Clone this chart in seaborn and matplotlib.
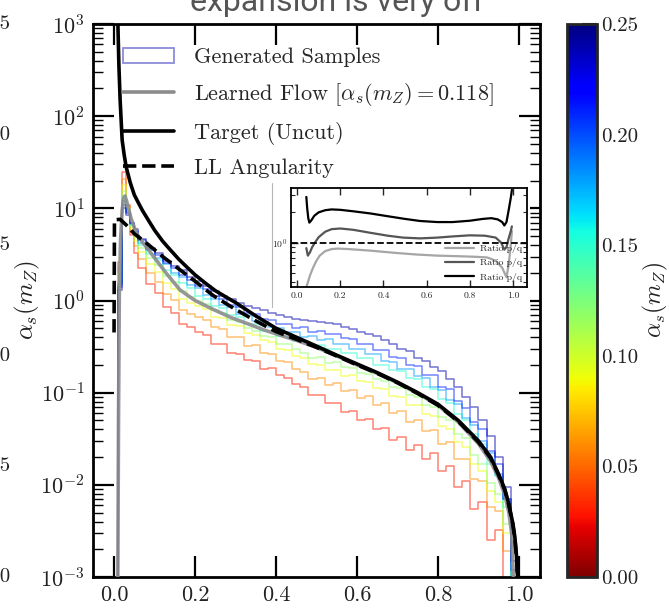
import numpy as np
import matplotlib
matplotlib.use("Agg")
import matplotlib.pyplot as plt
import seaborn as sns
from matplotlib.patches import Patch, Rectangle
from matplotlib.lines import Line2D
from matplotlib import ticker
from matplotlib.colors import Normalize
from matplotlib.cm import ScalarMappable

# ---------------- data ----------------
# histogram bins: 0.01 wide around the peak, 0.02 wide elsewhere
bin_edges = [0.00, 0.01, 0.02, 0.03, 0.04, 0.05] + [round(0.06 + 0.02 * i, 2) for i in range(48)]

alpha_s_values = [0.03, 0.06, 0.09, 0.12, 0.15, 0.18, 0.21, 0.24]

hist_003 = [0, 2.6, 25, 11, 5.2, 3.3,
            2.25, 1.5, 1.2, 0.85, 0.73, 0.56, 0.51, 0.45, 0.42, 0.34, 0.335, 0.27, 0.265, 0.225, 0.22,
            0.18, 0.185, 0.155, 0.145, 0.125, 0.114, 0.094, 0.095, 0.078, 0.078, 0.062, 0.064, 0.05,
            0.052, 0.04, 0.041, 0.031, 0.033, 0.024, 0.027, 0.019, 0.022, 0.014, 0.016, 0.0095, 0.011,
            0.0055, 0.0065, 0.0025, 0.0032, 0, 0]
hist_006 = [0, 2.3, 21, 10.5, 5.6, 3.9,
            2.85, 2.0, 1.6, 1.18, 1.01, 0.79, 0.72, 0.66, 0.62, 0.51, 0.49, 0.4, 0.4, 0.32, 0.33,
            0.27, 0.26, 0.22, 0.215, 0.18, 0.166, 0.14, 0.145, 0.12, 0.127, 0.104, 0.108, 0.088,
            0.092, 0.074, 0.077, 0.06, 0.063, 0.048, 0.05, 0.038, 0.039, 0.028, 0.029, 0.019, 0.019,
            0.0115, 0.011, 0.0058, 0.0052, 0.0019, 0.0004]
hist_009 = [0, 2.0, 18, 10, 6.0, 4.4,
            3.35, 2.5, 2.05, 1.56, 1.33, 1.05, 0.93, 0.87, 0.8, 0.67, 0.64, 0.54, 0.53, 0.44, 0.42,
            0.37, 0.355, 0.3, 0.29, 0.25, 0.235, 0.205, 0.2, 0.175, 0.178, 0.152, 0.156, 0.133,
            0.132, 0.112, 0.11, 0.092, 0.09, 0.074, 0.073, 0.058, 0.056, 0.043, 0.04, 0.029, 0.026,
            0.017, 0.014, 0.0085, 0.0065, 0.003, 0.0006]
hist_012 = [0, 1.8, 15.5, 9.8, 6.3, 4.8,
            3.75, 2.9, 2.4, 1.86, 1.58, 1.27, 1.1, 1.0, 0.92, 0.78, 0.74, 0.62, 0.58, 0.5, 0.47,
            0.41, 0.4, 0.34, 0.34, 0.3, 0.27, 0.24, 0.245, 0.21, 0.215, 0.19, 0.185, 0.165,
            0.16, 0.14, 0.135, 0.115, 0.112, 0.094, 0.09, 0.074, 0.07, 0.055, 0.05, 0.036, 0.032,
            0.021, 0.017, 0.0105, 0.008, 0.0038, 0.0007]
hist_015 = [0, 1.6, 13.5, 9.5, 6.6, 5.2,
            4.05, 3.2, 2.75, 2.15, 1.9, 1.55, 1.36, 1.13, 1.04, 0.87, 0.82, 0.7, 0.66, 0.56, 0.55,
            0.47, 0.46, 0.41, 0.4, 0.36, 0.36, 0.32, 0.33, 0.3, 0.3, 0.27, 0.27, 0.235,
            0.24, 0.2, 0.2, 0.175, 0.17, 0.145, 0.14, 0.115, 0.11, 0.086, 0.078, 0.059, 0.05,
            0.036, 0.028, 0.017, 0.0125, 0.0058, 0.0009]
hist_018 = [0, 1.5, 12, 9.2, 6.8, 5.5,
            4.2, 3.55, 2.9, 2.5, 2.0, 1.82, 1.47, 1.35, 1.14, 1.05, 0.9, 0.84, 0.72, 0.69, 0.6,
            0.58, 0.52, 0.5, 0.45, 0.45, 0.4, 0.41, 0.37, 0.38, 0.34, 0.34, 0.3, 0.3,
            0.26, 0.265, 0.22, 0.215, 0.18, 0.18, 0.15, 0.145, 0.115, 0.108, 0.083, 0.075, 0.053,
            0.045, 0.03, 0.022, 0.013, 0.007, 0.001]
hist_021 = [0, 1.4, 11, 8.8, 6.9, 5.7,
            4.5, 3.6, 3.15, 2.55, 2.25, 1.9, 1.68, 1.45, 1.32, 1.13, 1.04, 0.9, 0.86, 0.74, 0.71,
            0.63, 0.62, 0.55, 0.56, 0.5, 0.51, 0.46, 0.47, 0.43, 0.43, 0.39, 0.38, 0.34,
            0.34, 0.29, 0.29, 0.245, 0.24, 0.2, 0.195, 0.155, 0.155, 0.115, 0.11, 0.082, 0.068,
            0.048, 0.04, 0.023, 0.017, 0.007, 0.0012]
hist_024 = [0, 1.3, 10, 8.5, 7.0, 5.9,
            4.7, 3.75, 3.3, 2.7, 2.38, 2.12, 1.78, 1.63, 1.44, 1.26, 1.13, 1.05, 0.95, 0.88, 0.83,
            0.78, 0.74, 0.7, 0.66, 0.63, 0.62, 0.6, 0.58, 0.57, 0.55, 0.52, 0.49, 0.46,
            0.43, 0.41, 0.37, 0.34, 0.3, 0.28, 0.24, 0.22, 0.19, 0.17, 0.14, 0.115, 0.09,
            0.07, 0.05, 0.034, 0.02, 0.0095, 0.0015]

hist_heights = [hist_003, hist_006, hist_009, hist_012, hist_015, hist_018, hist_021, hist_024]

# learned flow at alpha_s = 0.118
flow_x = [0.009, 0.011, 0.013, 0.016, 0.02, 0.024, 0.027, 0.031, 0.036, 0.042, 0.05, 0.06, 0.07,
          0.08, 0.1, 0.13, 0.163, 0.2, 0.245, 0.29, 0.33, 0.37, 0.41, 0.45, 0.5, 0.55, 0.6, 0.65,
          0.7, 0.75, 0.8, 0.85, 0.9, 0.93, 0.95, 0.965, 0.975, 0.982, 0.987]
flow_y = [0.0005, 0.05, 1.2, 4.5, 9.5, 13, 13.6, 12, 9.8, 7.8, 6.2, 5.0, 4.3,
          3.8, 2.9, 1.95, 1.3, 1.0, 0.8, 0.65, 0.56, 0.48, 0.42, 0.37, 0.31, 0.25, 0.2, 0.162,
          0.128, 0.098, 0.073, 0.048, 0.028, 0.018, 0.0118, 0.0078, 0.005, 0.003, 0.0008]

# target distribution (uncut)
target_x = [0.008, 0.01, 0.012, 0.015, 0.017, 0.02, 0.025, 0.03, 0.04, 0.05, 0.06, 0.07, 0.085,
            0.1, 0.12, 0.14, 0.16, 0.18, 0.2, 0.225, 0.25, 0.275, 0.3, 0.35, 0.4, 0.45, 0.5, 0.55,
            0.6, 0.65, 0.7, 0.75, 0.8, 0.85, 0.9, 0.93, 0.95, 0.965, 0.975, 0.985, 0.99, 0.995, 0.999]
target_y = [2000, 800, 350, 150, 100, 55, 38, 28, 19, 14, 11.5, 9.5, 7.4,
            5.8, 4.4, 3.5, 2.8, 2.3, 1.9, 1.55, 1.28, 1.1, 0.95, 0.68, 0.5, 0.4, 0.32, 0.255,
            0.205, 0.165, 0.13, 0.1, 0.075, 0.05, 0.03, 0.02, 0.013, 0.009, 0.0062, 0.0038, 0.0027,
            0.0015, 0.0005]

# leading-log angularity
ll_x = [0.0, 0.001, 0.015, 0.03, 0.05, 0.08, 0.12, 0.16, 0.2, 0.245, 0.3, 0.35, 0.4, 0.45, 0.5,
        0.55, 0.6, 0.65, 0.7, 0.75, 0.8, 0.85, 0.9, 0.93, 0.95, 0.965, 0.975, 0.985, 0.99, 0.995,
        0.999]
ll_y = [0.45, 7.5, 7.6, 6.6, 5.3, 4.2, 3.0, 2.2, 1.62, 1.13, 0.8, 0.6, 0.46, 0.38, 0.31,
        0.25, 0.2, 0.162, 0.128, 0.098, 0.073, 0.049, 0.029, 0.0195, 0.0127, 0.0088, 0.006, 0.0037,
        0.0026, 0.0014, 0.0004]

# ratio panel curves
ratio_light_x = [0.043, 0.05, 0.06, 0.074, 0.09, 0.105, 0.13, 0.16, 0.19, 0.24, 0.34, 0.45, 0.55,
                 0.65, 0.75, 0.83, 0.88, 0.92, 0.95, 0.97, 0.98, 0.99, 0.995]
ratio_light_y = [0.36, 0.4, 0.47, 0.56, 0.66, 0.74, 0.82, 0.86, 0.87, 0.86, 0.83, 0.79, 0.76,
                 0.74, 0.73, 0.72, 0.71, 0.66, 0.56, 0.45, 0.6, 0.95, 1.3]
ratio_mid_x = [0.043, 0.05, 0.06, 0.07, 0.083, 0.1, 0.13, 0.16, 0.2, 0.26, 0.34, 0.42, 0.49, 0.57,
               0.65, 0.72, 0.8, 0.87, 0.92, 0.945, 0.96, 0.97, 0.98, 0.99, 0.995]
ratio_mid_y = [0.88, 0.74, 0.8, 0.9, 1.0, 1.13, 1.28, 1.36, 1.38, 1.34, 1.25, 1.17, 1.12, 1.1,
               1.12, 1.15, 1.18, 1.17, 1.12, 1.0, 0.85, 0.9, 1.1, 1.3, 1.45]
ratio_dark_x = [0.043, 0.047, 0.052, 0.057, 0.065, 0.08, 0.1, 0.13, 0.16, 0.2, 0.26, 0.34, 0.42,
                0.5, 0.57, 0.65, 0.72, 0.8, 0.86, 0.9, 0.93, 0.95, 0.96, 0.97, 0.98, 0.99, 0.995]
ratio_dark_y = [2.85, 2.2, 1.75, 1.58, 1.65, 1.85, 2.0, 2.1, 2.14, 2.12, 2.05, 1.95, 1.83,
                1.72, 1.64, 1.6, 1.6, 1.65, 1.72, 1.75, 1.7, 1.6, 1.48, 1.6, 2.1, 2.8, 3.35]

cbar_ticks = [0.00, 0.05, 0.10, 0.15, 0.20, 0.25]

# ---------------- style ----------------
sns.set_theme(style="ticks")
plt.rcParams.update({
    "font.family": ["cmr10"],
    "mathtext.fontset": "cm",
    "axes.formatter.use_mathtext": True,
    "axes.unicode_minus": False,
})

W, H = 669, 611
fig = plt.figure(figsize=(W / 100, H / 100), dpi=100)
ax = fig.add_axes([93 / W, 34 / H, 447 / W, 553 / H])
cax = fig.add_axes([567 / W, 34 / H, 30 / W, 553 / H])
ax.set_yscale("log")

norm = Normalize(0.0, 0.25)
cmap = plt.get_cmap("jet_r")

centers = [0.5 * (a + b) for a, b in zip(bin_edges[:-1], bin_edges[1:])]
for a_s, heights in zip(alpha_s_values, hist_heights):
    sns.histplot(x=centers, weights=heights, bins=bin_edges, element="step", fill=False,
                 color=cmap(norm(a_s)), alpha=0.55, linewidth=1.1, ax=ax, zorder=2)

sns.lineplot(x=flow_x, y=flow_y, ax=ax, color="#8c8c8c", linewidth=2.6, alpha=0.9,
             estimator=None, sort=False, zorder=3)
sns.lineplot(x=target_x, y=target_y, ax=ax, color="black", linewidth=2.6,
             estimator=None, sort=False, zorder=4)
sns.lineplot(x=ll_x, y=ll_y, ax=ax, color="black", linewidth=2.6, linestyle="--",
             estimator=None, sort=False, zorder=4)

ax.set_xlim(-0.052, 1.052)
ax.set_ylim(1e-3, 1e3)
ax.set_xlabel("")
ax.set_ylabel("")
ax.set_xticks([0.0, 0.2, 0.4, 0.6, 0.8, 1.0])
ax.xaxis.set_major_formatter(ticker.FormatStrFormatter("%.1f"))
ax.xaxis.set_minor_locator(ticker.NullLocator())
ax.yaxis.set_major_locator(ticker.LogLocator(base=10, numticks=20))
ax.yaxis.set_minor_locator(ticker.LogLocator(base=10, subs=np.arange(2, 10), numticks=20))
ax.yaxis.set_minor_formatter(ticker.NullFormatter())
ax.tick_params(which="major", direction="in", length=15, width=1.6, top=True, right=True,
               labelsize=16, pad=6, color="black", labelcolor="#222222")
ax.tick_params(which="minor", direction="in", length=7, width=1.0, top=True, right=True,
               color="black")
for s in ax.spines.values():
    s.set_linewidth(2.0)
    s.set_color("black")

navy = cmap(norm(alpha_s_values[-1]))
handles = [
    Patch(facecolor="none", edgecolor=(navy[0], navy[1], navy[2], 0.45), linewidth=1.3),
    Line2D([], [], color="#8c8c8c", linewidth=2.6),
    Line2D([], [], color="black", linewidth=2.6),
    Line2D([], [], color="black", linewidth=2.6, linestyle="--"),
]
labels = ["Generated Samples", r"Learned Flow $[\alpha_s(m_Z) = 0.118]$",
          "Target (Uncut)", "LL Angularity"]
ax.legend(handles, labels, loc="upper left", bbox_to_anchor=(0.067, 0.957), frameon=False,
          fontsize=16, handlelength=2.3, handletextpad=0.9, labelspacing=0.62,
          borderpad=0, borderaxespad=0)

# white panel behind the ratio inset
ax.add_patch(Rectangle((272 / W, 1 - 307 / H), (530 - 272) / W, (307 - 183) / H,
                       transform=fig.transFigure, facecolor="white", edgecolor="none",
                       zorder=4.5, clip_on=False))
ax.add_line(Line2D([272 / W, 272 / W], [1 - 307 / H, 1 - 183 / H], transform=fig.transFigure,
                   color="#b5b5b5", linewidth=0.8, zorder=4.6, clip_on=False))

# ratio inset
axi = fig.add_axes([291 / W, 1 - 287 / H, 236 / W, 99 / H])
axi.set_yscale("log")
sns.lineplot(x=ratio_light_x, y=ratio_light_y, ax=axi, color="#a6a6a6", linewidth=1.6,
             estimator=None, sort=False, label="Ratio p/q")
sns.lineplot(x=ratio_mid_x, y=ratio_mid_y, ax=axi, color="#555555", linewidth=1.6,
             estimator=None, sort=False, label="Ratio p/q")
sns.lineplot(x=ratio_dark_x, y=ratio_dark_y, ax=axi, color="black", linewidth=1.6,
             estimator=None, sort=False, label="Ratio p/q")
axi.axhline(1.0, color="black", linewidth=1.3, linestyle="--")
axi.set_xlim(-0.028, 1.065)
axi.set_ylim(0.36, 3.5)
axi.set_xticks([0.0, 0.2, 0.4, 0.6, 0.8, 1.0])
axi.xaxis.set_major_formatter(ticker.FormatStrFormatter("%.1f"))
axi.xaxis.set_minor_locator(ticker.NullLocator())
axi.yaxis.set_major_locator(ticker.LogLocator(base=10, numticks=10))
axi.yaxis.set_minor_locator(ticker.LogLocator(base=10, subs=np.arange(2, 10), numticks=10))
axi.yaxis.set_minor_formatter(ticker.NullFormatter())
axi.tick_params(which="major", direction="in", length=5, width=1.0, top=True, right=True,
                labelsize=7, pad=3)
axi.tick_params(which="minor", direction="in", length=3, width=0.8, top=True, right=True)
axi.set_xlabel("")
axi.set_ylabel("")
for s in axi.spines.values():
    s.set_linewidth(1.3)
    s.set_color("black")
axi.legend(loc="lower right", frameon=False, fontsize=7, handlelength=3.0, labelspacing=0.55,
           borderaxespad=0.15, handletextpad=0.6)

# colour bar
sm = ScalarMappable(norm=norm, cmap=cmap)
cb = fig.colorbar(sm, cax=cax, ticks=cbar_ticks)
cb.ax.yaxis.set_major_formatter(ticker.FormatStrFormatter("%.2f"))
cb.ax.tick_params(direction="in", length=11, width=1.5, labelsize=15, pad=3,
                  labelcolor="#222222")
cb.outline.set_linewidth(2.0)
cb.set_label(r"$\alpha_s(m_Z)$", fontsize=17, labelpad=2, color="#222222")

# neighbouring panel's colour bar, cut by the left edge of the frame
for t in cbar_ticks:
    yy = 1 - (577 - t / 0.25 * 553) / H
    fig.text(10.5 / W, yy, f"{t:.2f}", fontsize=15, ha="right", va="center", color="#222222")
fig.text(27 / W, 1 - 300 / H, r"$\alpha_s(m_Z)$", fontsize=18, rotation=90, ha="center",
         va="center", color="#222222")

# slide heading, partly cut by the top edge
fig.text(0.504, 1 - 11 / H, "expansion is very off", fontsize=23, ha="center", va="baseline",
         color="#555555", family=["Roboto", "DejaVu Sans"])

fig.savefig("out.png", dpi=100)
